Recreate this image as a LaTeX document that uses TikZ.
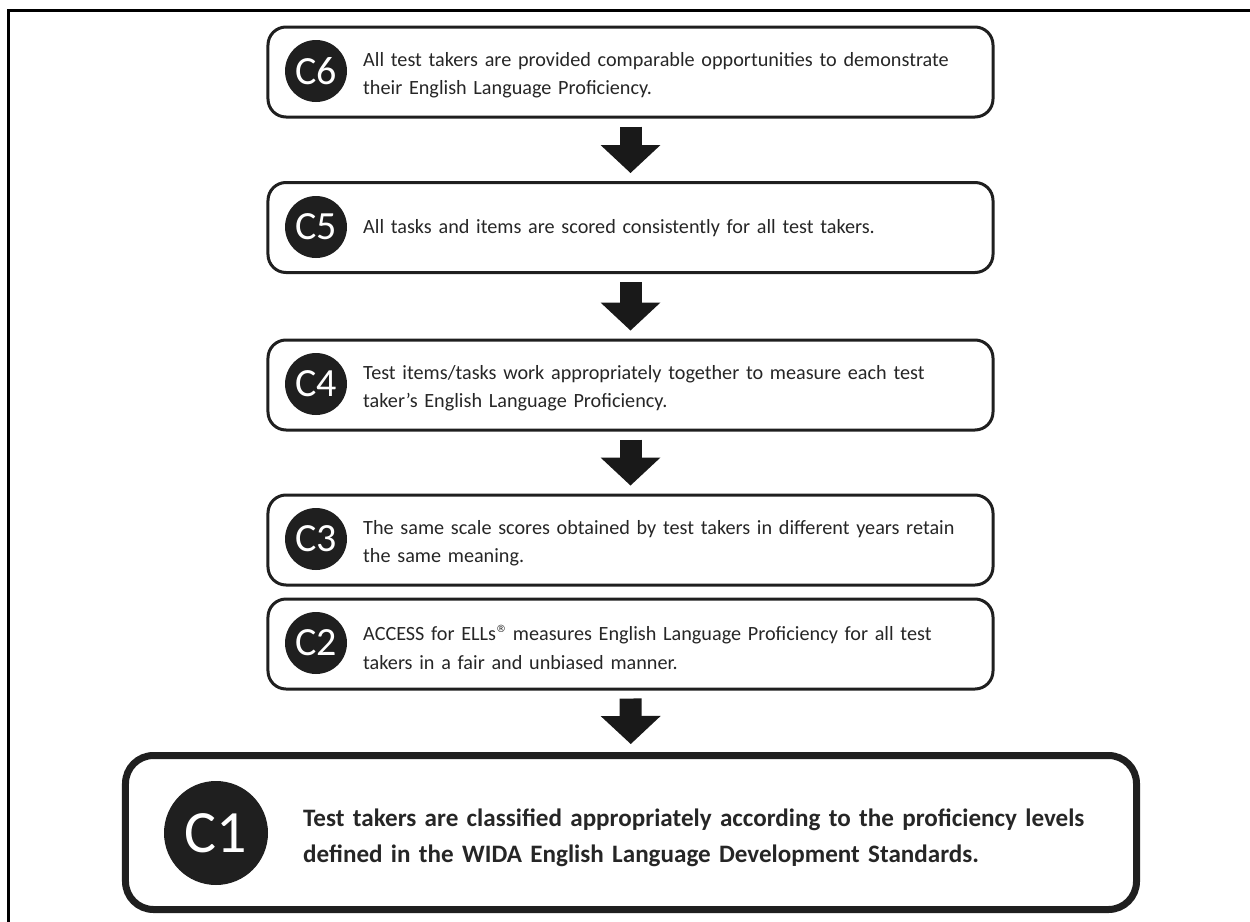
\documentclass[tikz,border=0pt]{standalone}
\usepackage{fontspec}
\setmainfont{Carlito}
\newfontfamily\symfont{DejaVu Sans}
\usetikzlibrary{arrows.meta}
\tikzset{
	claimbox/.style={draw=black!88, line width=3bp, rounded corners=18bp, minimum width=725bp, minimum height=90bp, inner sep=0pt},
	claimdot/.style={circle, fill=black!88, text=white, minimum size=62bp, inner sep=0pt, font=\fontsize{40bp}{40bp}\selectfont},
	claimtext/.style={anchor=west, text width=620bp, align=left, inner sep=0pt, text=black!85, font=\fontsize{20.2bp}{28.5bp}\selectfont},
	downarrow/.style={line width=22bp, draw=black!90, -{Triangle[width=60bp,length=28bp,line width=0pt]}, shorten <=8bp, shorten >=8bp},
}
\newcommand{\regmark}{\raisebox{0.42em}{\symfont\fontsize{10bp}{10bp}\selectfont ®}}

\begin{document}
\begin{tikzpicture}[x=1bp, y=-1bp]
			%%%%% START %%%%%
			\useasboundingbox (0,0) rectangle (1250,922);
			\draw[line width=3bp] (8,922) -- (8,10) -- (1250,10);
			
			\node[claimbox] (c6) at (630.5,72) {};
			\node[claimdot] (c6dot) at (316,71) {C6};
			\node[claimtext] (c6txt) at (363,75) {All test takers are provided comparable opportunities to demonstrate\\their English Language Proficiency.};
			
			\node[claimbox] (c5) at (630.5,227.5) {};
			\node[claimdot] (c5dot) at (316,227) {C5};
			\node[claimtext] (c5txt) at (363,228) {All tasks and items are scored consistently for all test takers.};
			
			\node[claimbox] (c4) at (630.5,385) {};
			\node[claimdot] (c4dot) at (316,384) {C4};
			\node[claimtext] (c4txt) at (363,388) {Test items/tasks work appropriately together to measure each test\\taker's English Language Proficiency.};
			
			\node[claimbox] (c3) at (630.5,540) {};
			\node[claimdot] (c3dot) at (316,539) {C3};
			\node[claimtext] (c3txt) at (363,543) {The same scale scores obtained by test takers in different years retain\\the same meaning.};
			
			\node[claimbox] (c2) at (630.5,644) {};
			\node[claimdot] (c2dot) at (316,643) {C2};
			\node[claimtext] (c2txt) at (363,647) {ACCESS for ELLs\regmark{} measures English Language Proficiency for all test\\takers in a fair and unbiased manner.};
			
			\node[claimbox, line width=7bp, rounded corners=28bp, minimum width=1011bp, minimum height=154bp] (c1) at (631,832.5) {};
			\node[claimdot, minimum size=104bp, font=\fontsize{60bp}{60bp}\selectfont] (c1dot) at (216,833) {C1};
			\node[claimtext, text width=820bp, font=\bfseries\fontsize{25.1bp}{36bp}\selectfont] (c1txt) at (303,838) {Test takers are classified appropriately according to the proficiency levels\\defined in the WIDA English Language Development Standards.};
			
			\draw[downarrow] (c6) -- (c5);
			\draw[downarrow] (c5) -- (c4);
			\draw[downarrow] (c4) -- (c3);
			\draw[downarrow] (c2) -- (c1);
			%%%%% END %%%%%
\end{tikzpicture}
\end{document}
